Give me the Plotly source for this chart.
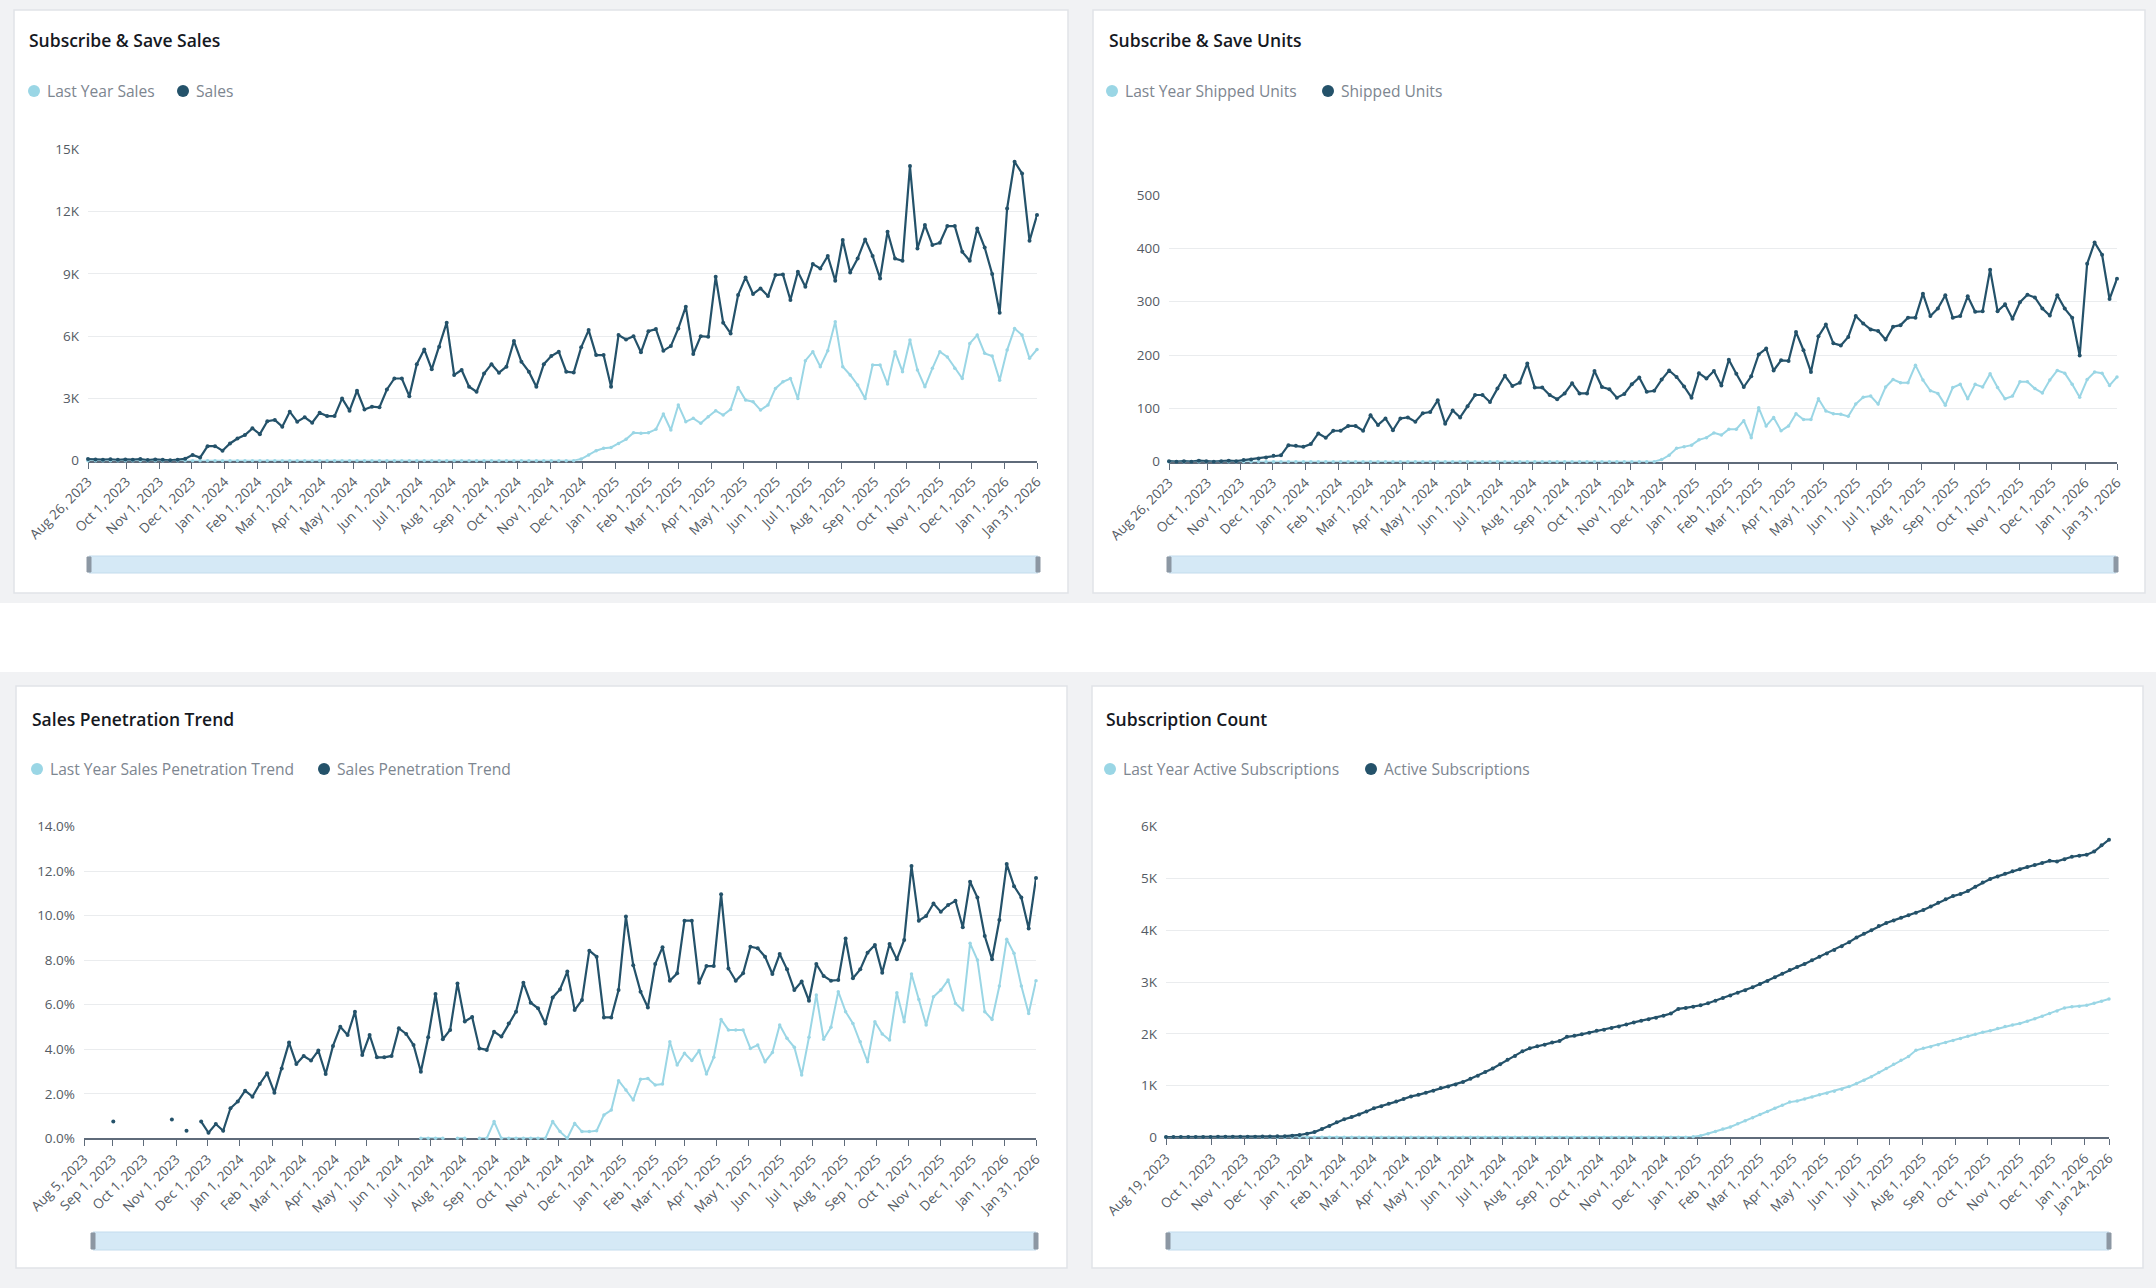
import pandas as pd
import plotly.graph_objects as go

W, H = 2156, 1288

# ---------------- data ----------------
sales_start = "2023-08-26"
units_start = "2023-08-26"
pen_start = "2023-08-05"
subs_start = "2023-08-19"

sales = [80, 60, 50, 70, 40, 60, 50, 80, 30, 60, 40, 20, 50, 90, 280, 150,
         700, 700, 480, 830, 1070, 1240, 1560, 1280, 1900, 1960, 1640, 2360, 1880, 2090, 1830, 2310,
         2150, 2150, 3000, 2410, 3370, 2470, 2600, 2570, 3430, 3960, 3960, 3110, 4650, 5360, 4400, 5490,
         6650, 4130, 4370, 3560, 3320, 4200, 4650, 4240, 4530, 5760, 4770, 4290, 3560, 4650, 5040, 5250,
         4290, 4250, 5460, 6290, 5090, 5090, 3560, 6050, 5840, 6000, 5220, 6240, 6340, 5300, 5520, 6370,
         7420, 5140, 6000, 5970, 8860, 6650, 6130, 7980, 8830, 8030, 8300, 7930, 8940, 8970, 7740, 9100,
         8380, 9470, 9260, 9860, 8670, 10630, 9070, 9740, 10660, 9860, 8780, 11030, 9740, 9630, 14190, 10220,
         11350, 10390, 10500, 11300, 11300, 10060, 9630, 11190, 10270, 8990, 7130, 12150, 14400, 13840, 10590, 11830]

last_year_sales = [0, 0, 0, 0, 0, 0, 0, 0, 0, 0, 0, 0, 0, 0, 0, 0,
                   0, 0, 0, 0, 0, 0, 0, 0, 0, 0, 0, 0, 0, 0, 0, 0,
                   0, 0, 0, 0, 0, 0, 0, 0, 0, 0, 0, 0, 0, 0, 0, 0,
                   0, 0, 0, 0, 0, 0, 0, 0, 0, 0, 0, 0, 0, 0, 0, 0,
                   0, 0, 80, 270, 480, 600, 640, 830, 1030, 1350, 1320, 1350, 1510, 2250, 1480, 2680,
                   1880, 2040, 1800, 2120, 2410, 2200, 2470, 3530, 2920, 2840, 2440, 2680, 3480, 3800, 3960, 3000,
                   4820, 5250, 4530, 5300, 6690, 4530, 4130, 3650, 3000, 4610, 4610, 3690, 5250, 4290, 5810, 4370,
                   3560, 4450, 5250, 5000, 4450, 3960, 5650, 6050, 5170, 5040, 3880, 5330, 6370, 6050, 4930, 5360]

shipped_units = [1, 0, 1, 0, 2, 1, 0, 1, 2, 1, 3, 4, 6, 8, 11, 12,
                 31, 30, 28, 33, 53, 45, 58, 58, 67, 67, 58, 87, 69, 81, 59, 81,
                 83, 75, 91, 93, 115, 71, 96, 83, 104, 125, 125, 112, 137, 161, 142, 148,
                 184, 139, 139, 125, 117, 128, 147, 128, 128, 170, 140, 136, 120, 127, 145, 158,
                 131, 133, 154, 171, 159, 141, 120, 166, 156, 170, 143, 191, 165, 140, 160, 201,
                 212, 171, 190, 189, 243, 209, 168, 235, 257, 222, 218, 234, 273, 259, 248, 245,
                 229, 253, 256, 270, 270, 315, 273, 287, 312, 270, 273, 310, 281, 282, 360, 282,
                 295, 268, 299, 313, 308, 287, 274, 312, 287, 270, 199, 371, 411, 388, 305, 343]

last_year_units = [0, 0, 0, 0, 0, 0, 0, 0, 0, 0, 0, 0, 0, 0, 0, 0,
                   0, 0, 0, 0, 0, 0, 0, 0, 0, 0, 0, 0, 0, 0, 0, 0,
                   0, 0, 0, 0, 0, 0, 0, 0, 0, 0, 0, 0, 0, 0, 0, 0,
                   0, 0, 0, 0, 0, 0, 0, 0, 0, 0, 0, 0, 0, 0, 0, 0,
                   0, 0, 4, 12, 25, 28, 31, 41, 45, 54, 50, 61, 61, 77, 45, 101,
                   67, 83, 58, 67, 90, 79, 79, 118, 95, 90, 89, 85, 108, 121, 123, 108,
                   140, 154, 148, 148, 181, 153, 133, 128, 106, 139, 145, 118, 145, 140, 165, 139,
                   118, 123, 150, 150, 137, 129, 153, 171, 166, 145, 121, 154, 168, 166, 143, 159]

penetration = [None, None, None, None, 0.75, None, None, None, None, None, None, None, 0.85, None, 0.34, None,
               0.75, 0.25, 0.64, 0.34, 1.35, 1.65, 2.14, 1.87, 2.44,
               2.92, 2.05, 3.14, 4.30, 3.34, 3.70, 3.49, 3.94, 2.89, 4.15,
               5.01, 4.64, 5.69, 3.74, 4.64, 3.64, 3.64, 3.70, 4.94, 4.69,
               4.19, 2.99, 4.54, 6.48, 4.45, 4.87, 6.96, 5.25, 5.45, 4.04,
               3.97, 4.79, 4.57, 5.16, 5.69, 6.99, 6.09, 5.84, 5.16, 6.33,
               6.69, 7.49,
               5.76, 6.21, 8.43, 8.16, 5.43, 5.43, 6.66, 9.96, 7.78, 6.59,
               5.88, 7.83, 8.58, 7.08, 7.41, 9.78, 9.78, 6.99, 7.74, 7.74,
               10.97, 7.63, 7.08, 7.41, 8.61, 8.54, 8.16, 7.38, 8.28, 7.59,
               6.66, 7.04, 6.18, 7.83, 7.29, 7.08, 7.11, 8.98, 7.19, 7.59,
               8.34, 8.69, 7.44, 8.73, 8.04, 8.91, 12.23, 9.78, 9.99, 10.55,
               10.18, 10.48, 10.67, 9.48, 11.53, 10.82, 9.09, 8.04, 9.81, 12.32,
               11.33, 10.82, 9.43, 11.69]

last_year_penetration = [None, None, None, None, None, None, None, None, None, None,
                         None, None, None, None, None, None, None, None, None, None,
                         None, None, None, None, None, None, None, None, None, None,
                         None, None, None, None, None, None, None, None, None, None,
                         None, None, None, None, None, None,
                         0, 0, 0, 0, None, 0, 0, None, 0, 0, 0.75,
                         0, 0, 0, 0, 0, 0, 0, 0.75, 0.30, 0,
                         0.67, 0.30, 0.30, 0.34, 1.05, 1.27, 2.59, 2.17, 1.72, 2.65,
                         2.69, 2.40, 2.44, 4.34, 3.29, 3.82, 3.49, 3.94, 2.89, 3.64,
                         5.34, 4.87, 4.87, 4.87, 4.04, 4.19, 3.44, 3.85, 5.09, 4.49,
                         4.09, 2.84, 4.54, 6.44, 4.45, 4.99, 6.59, 5.69, 5.16, 4.34,
                         3.44, 5.24, 4.69, 4.42, 6.54, 5.24, 7.38, 6.24, 5.09, 6.36,
                         6.66, 7.11, 6.06, 5.76, 8.76, 8.01, 5.69, 5.34, 6.84, 8.94,
                         8.31, 6.84, 5.61, 7.08]

active_subs = [5, 5, 6, 6, 7, 8, 8, 9, 10, 10, 11, 12, 13, 14, 16, 18, 22,
               30, 45, 70, 100, 160, 220, 290, 350, 390, 440,
               500, 560, 600, 650, 690, 740, 790, 820, 860, 900,
               950, 980, 1020, 1070, 1130, 1190, 1260, 1330, 1410, 1500,
               1570, 1660, 1720, 1760, 1790, 1830, 1860, 1940, 1960, 1990,
               2020, 2060, 2080, 2110, 2140, 2180, 2220, 2250, 2280, 2310,
               2350, 2390, 2480, 2500, 2520, 2550, 2590, 2640, 2690, 2740,
               2790, 2840, 2900, 2960, 3020, 3090, 3160, 3230, 3290, 3350,
               3420, 3490, 3550, 3620, 3690, 3770, 3860, 3930, 4000, 4080,
               4140, 4190, 4240, 4290, 4340, 4390, 4460, 4530, 4600, 4660,
               4700, 4760, 4840, 4920, 4990, 5040, 5090, 5140, 5180, 5220,
               5260, 5300, 5340, 5330, 5370, 5420, 5440, 5460, 5520, 5640,
               5750]

last_year_subs = [0, 0, 0, 0, 0, 0, 0, 0, 0, 0, 0, 0, 0, 0, 0, 0,
                  0, 0, 0, 0, 0, 0, 0, 0, 0, 0, 0, 0, 0, 0, 0, 0,
                  0, 0, 0, 0, 0, 0, 0, 0, 0, 0, 0, 0, 0, 0, 0, 0,
                  0, 0, 0, 0, 0, 0, 0, 0, 0, 0, 0, 0, 0, 0, 0, 0,
                  0, 0, 0, 0, 0, 0, 0,
                  10, 30, 70, 110, 160, 200, 260, 320, 380, 440,
                  500, 560, 620, 680, 700, 740, 780, 820, 850, 890,
                  930, 980, 1040, 1100, 1170, 1250, 1330, 1410, 1490, 1560,
                  1680, 1720, 1750, 1790, 1830, 1870, 1910, 1950, 1990, 2030,
                  2060, 2100, 2140, 2170, 2200, 2240, 2290, 2340, 2390, 2440,
                  2500, 2520, 2530, 2550, 2590, 2630, 2670]

sales_yticks = [0, 3000, 6000, 9000, 12000, 15000]
sales_ytext = ["0", "3K", "6K", "9K", "12K", "15K"]
units_yticks = [0, 100, 200, 300, 400, 500]
units_ytext = ["0", "100", "200", "300", "400", "500"]
pen_yticks = [0, 2, 4, 6, 8, 10, 12, 14]
pen_ytext = ["0.0%", "2.0%", "4.0%", "6.0%", "8.0%", "10.0%", "12.0%", "14.0%"]
subs_yticks = [0, 1000, 2000, 3000, 4000, 5000, 6000]
subs_ytext = ["0", "1K", "2K", "3K", "4K", "5K", "6K"]

# ---------------- styling ----------------
DARK = "#24526a"
LIGHT = "#9ad6e5"
FONT = "Open Sans"
AXIS_GRAY = "#5f6b7a"
TEXT_GRAY = "#545b64"
GRID = "#eaecee"


def weekly(start, n):
    return pd.date_range(start, periods=n, freq="7D")


def fmt(d):
    return f"{d.strftime('%b')} {d.day}, {d.year}"


def px(x):
    return x / W


def py(y):
    return 1 - y / H


def date_ticks(dates, first_month):
    months = list(pd.date_range(first_month, "2026-01-01", freq="MS"))
    vals = [dates[0]] + months + [dates[-1]]
    return [d.strftime("%Y-%m-%d") for d in vals], [fmt(d) for d in vals]


d_sales = weekly(sales_start, len(sales))
d_units = weekly(units_start, len(shipped_units))
d_pen = weekly(pen_start, len(penetration))
d_subs = weekly(subs_start, len(active_subs))

fig = go.Figure()


def add_pair(dates, ly, cur, ly_name, cur_name, ax, fmt_hover):
    fig.add_trace(go.Scatter(x=dates, y=ly, name=ly_name, mode="lines+markers",
                             line=dict(color=LIGHT, width=2), marker=dict(size=3.5, color=LIGHT),
                             connectgaps=False, cliponaxis=False, showlegend=False,
                             xaxis="x" + ax, yaxis="y" + ax, hovertemplate=fmt_hover))
    fig.add_trace(go.Scatter(x=dates, y=cur, name=cur_name, mode="lines+markers",
                             line=dict(color=DARK, width=2.2), marker=dict(size=4, color=DARK),
                             connectgaps=False, cliponaxis=False, showlegend=False,
                             xaxis="x" + ax, yaxis="y" + ax, hovertemplate=fmt_hover))


add_pair(d_sales, last_year_sales, sales, "Last Year Sales", "Sales", "", "%{y:,.0f}")
add_pair(d_units, last_year_units, shipped_units, "Last Year Shipped Units", "Shipped Units", "2", "%{y:,.0f}")
add_pair(d_pen, last_year_penetration, penetration, "Last Year Sales Penetration Trend",
         "Sales Penetration Trend", "3", "%{y:.1f}%")
add_pair(d_subs, last_year_subs, active_subs, "Last Year Active Subscriptions", "Active Subscriptions",
         "4", "%{y:,.0f}")


def xaxis(dom, dates, first_month, anchor):
    tv, tt = date_ticks(dates, first_month)
    return dict(domain=[px(dom[0]), px(dom[1])], anchor=anchor, type="date", automargin=False,
                range=[dates[0].strftime("%Y-%m-%d"), dates[-1].strftime("%Y-%m-%d")],
                tickmode="array", tickvals=tv, ticktext=tt, tickangle=-45,
                ticks="outside", ticklen=6, tickwidth=1.2, tickcolor=AXIS_GRAY,
                showline=True, linecolor=AXIS_GRAY, linewidth=1.6, layer="below traces",
                showgrid=False, zeroline=False, fixedrange=True,
                tickfont=dict(family=FONT, size=13.5, color=TEXT_GRAY))


def yaxis(dom, top, tv, tt, anchor):
    return dict(domain=[py(dom[1]), py(dom[0])], anchor=anchor, range=[0, top], automargin=False,
                tickmode="array", tickvals=tv, ticktext=tt,
                showgrid=True, gridcolor=GRID, gridwidth=1.2, zeroline=False,
                showline=False, ticks="", ticklabelstandoff=8, fixedrange=True,
                tickfont=dict(family=FONT, size=13.5, color=TEXT_GRAY))


fig.update_layout(
    xaxis=xaxis((88, 1037), d_sales, "2023-10-01", "y"),
    yaxis=yaxis((149.3, 460.7), 15000, sales_yticks, sales_ytext, "x"),
    xaxis2=xaxis((1169, 2117), d_units, "2023-10-01", "y2"),
    yaxis2=yaxis((195, 461.7), 500, units_yticks, units_ytext, "x2"),
    xaxis3=xaxis((84, 1036), d_pen, "2023-09-01", "y3"),
    yaxis3=yaxis((826.7, 1138.3), 14, pen_yticks, pen_ytext, "x3"),
    xaxis4=xaxis((1166, 2109), d_subs, "2023-10-01", "y4"),
    yaxis4=yaxis((826.7, 1137.3), 6000, subs_yticks, subs_ytext, "x4"),
)

shapes = []
# background panels
shapes.append(dict(type="rect", xref="paper", yref="paper", x0=0, x1=1, y0=py(603), y1=py(0),
                   fillcolor="#f1f2f4", line=dict(width=0), layer="below"))
shapes.append(dict(type="rect", xref="paper", yref="paper", x0=0, x1=1, y0=py(1288), y1=py(672),
                   fillcolor="#f1f2f4", line=dict(width=0), layer="below"))
cards = [(14, 10, 1068, 593), (1093, 10, 2145, 593), (16, 686, 1067, 1268), (1092, 686, 2143, 1268)]
for (x0, y0, x1, y1) in cards:
    shapes.append(dict(type="rect", xref="paper", yref="paper", x0=px(x0), x1=px(x1), y0=py(y1), y1=py(y0),
                       fillcolor="white", line=dict(color="#e1e4e8", width=1.5), layer="below"))

# scroll bars
sliders = [(89, 1038, 556, 573), (1169, 2116, 556, 573), (93, 1036, 1232, 1250), (1168, 2109, 1232, 1250)]
for (x0, x1, y0, y1) in sliders:
    shapes.append(dict(type="rect", xref="paper", yref="paper", x0=px(x0), x1=px(x1), y0=py(y1), y1=py(y0),
                       fillcolor="#d5e9f6", line=dict(color="#c3dced", width=1), layer="below"))
    for hx in (x0, x1):
        shapes.append(dict(type="rect", xref="paper", yref="paper", x0=px(hx - 2), x1=px(hx + 2),
                           y0=py(y1 - 1), y1=py(y0 + 1),
                           fillcolor="#8c97a3", line=dict(color="#8c97a3", width=1), layer="above"))

annotations = []
titles = [("Subscribe & Save Sales", 27, 40), ("Subscribe & Save Units", 1107, 40),
          ("Sales Penetration Trend", 30, 719), ("Subscription Count", 1104, 719)]
for t, x, y in titles:
    annotations.append(dict(text=t, xref="paper", yref="paper", x=px(x), y=py(y), xanchor="left",
                            yanchor="middle", showarrow=False,
                            font=dict(family=FONT, size=17.5, color="#16191f", weight=600)))

legends = [
    (91, [(34, LIGHT, "Last Year Sales"), (183, DARK, "Sales")]),
    (91, [(1112, LIGHT, "Last Year Shipped Units"), (1328, DARK, "Shipped Units")]),
    (769, [(37, LIGHT, "Last Year Sales Penetration Trend"), (324, DARK, "Sales Penetration Trend")]),
    (769, [(1110, LIGHT, "Last Year Active Subscriptions"), (1371, DARK, "Active Subscriptions")]),
]
for y, items in legends:
    for cx, col, label in items:
        r = 6
        shapes.append(dict(type="circle", xref="paper", yref="paper", x0=px(cx - r), x1=px(cx + r),
                           y0=py(y + r), y1=py(y - r), fillcolor=col, line=dict(width=0)))
        annotations.append(dict(text=label, xref="paper", yref="paper", x=px(cx + 11), y=py(y),
                                xanchor="left", yanchor="middle", showarrow=False,
                                font=dict(family=FONT, size=15.6, color="#7d8690")))

fig.update_layout(
    width=W, height=H, margin=dict(l=0, r=0, t=0, b=0, autoexpand=False),
    paper_bgcolor="white", plot_bgcolor="rgba(0,0,0,0)",
    shapes=shapes, annotations=annotations, showlegend=False,
    font=dict(family=FONT, color=TEXT_GRAY),
    hovermode="closest",
)

fig.write_html("out.html")
